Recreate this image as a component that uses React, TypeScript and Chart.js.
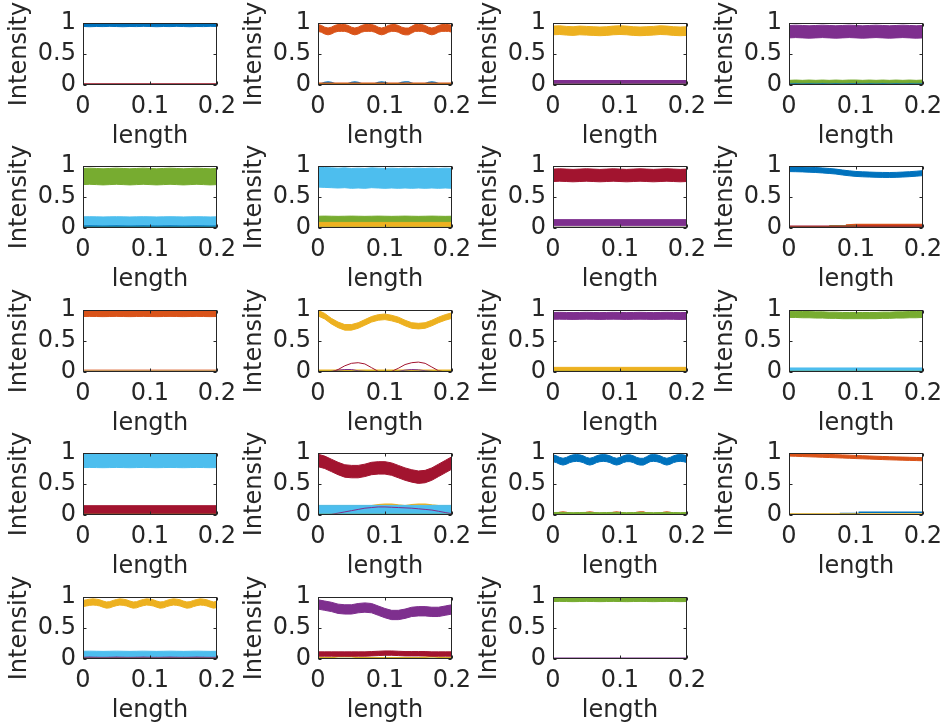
import React, { useEffect, useRef } from "react";
import { Chart, registerables } from "chart.js";
Chart.register(...registerables);

// ---------- data ----------
const xTickValues = [0, 0.1, 0.2];
const xTickLabels = ["0", "0.1", "0.2"];
const yTickValues = [0, 0.5, 1];
const yTickLabels = ["0", "0.5", "1"];
const xTitle = "length";
const yTitle = "Intensity";

const xEnds = [0, 0.2];
const x21 = [0, 0.01, 0.02, 0.03, 0.04, 0.05, 0.06, 0.07, 0.08, 0.09, 0.1, 0.11, 0.12, 0.13, 0.14, 0.15, 0.16, 0.17, 0.18, 0.19, 0.2];
const x41 = [0, 0.005, 0.01, 0.015, 0.02, 0.025, 0.03, 0.035, 0.04, 0.045, 0.05, 0.055, 0.06, 0.065, 0.07, 0.075, 0.08, 0.085, 0.09, 0.095, 0.1, 0.105, 0.11, 0.115, 0.12, 0.125, 0.13, 0.135, 0.14, 0.145, 0.15, 0.155, 0.16, 0.165, 0.17, 0.175, 0.18, 0.185, 0.19, 0.195, 0.2];

const baseGreen = [0.003, 0.003];

// panel 1
const p1Blue = [0.97, 0.966, 0.97, 0.968, 0.972, 0.969, 0.966, 0.97, 0.968, 0.972, 0.97, 0.966, 0.97, 0.968, 0.972, 0.969, 0.966, 0.97, 0.968, 0.972, 0.97];
const p1Red = [0.016, 0.016];
// panel 2
const p2Blue = [0.01, 0.02, 0.04, 0.05, 0.04, 0.02, 0.01, 0.01, 0.01, 0.02, 0.04, 0.05, 0.04, 0.02, 0.01, 0.01, 0.01, 0.02, 0.04, 0.05, 0.04, 0.02, 0.01, 0.01, 0.02, 0.04, 0.05, 0.05, 0.03, 0.01, 0.01, 0.01, 0.02, 0.04, 0.05, 0.04, 0.02, 0.01, 0.01, 0.01, 0.02];
const p2Orange = [0.92, 0.906, 0.878, 0.864, 0.878, 0.906, 0.92, 0.92, 0.92, 0.906, 0.878, 0.864, 0.878, 0.906, 0.92, 0.92, 0.92, 0.906, 0.878, 0.864, 0.878, 0.906, 0.92, 0.92, 0.906, 0.878, 0.864, 0.864, 0.892, 0.92, 0.92, 0.92, 0.906, 0.878, 0.864, 0.878, 0.906, 0.92, 0.92, 0.92, 0.906];
const p2OrangeLow = [0.015, 0.015];
// panel 3
const p3Yellow = [0.88, 0.885, 0.875, 0.87, 0.88, 0.875, 0.87, 0.865, 0.87, 0.88, 0.885, 0.88, 0.87, 0.865, 0.87, 0.875, 0.885, 0.88, 0.87, 0.865, 0.87];
const p3Purple = [0.05, 0.05];
// panel 4
const p4Blue = [0.025, 0.025];
const p4Purple = [0.86, 0.865, 0.86, 0.855, 0.86, 0.865, 0.86, 0.855, 0.86, 0.865, 0.86, 0.855, 0.86, 0.865, 0.86, 0.855, 0.86, 0.865, 0.86, 0.855, 0.86];
const p4Green = [0.055, 0.06, 0.055, 0.06, 0.055, 0.06, 0.055, 0.06, 0.055, 0.06, 0.06, 0.055, 0.06, 0.055, 0.06, 0.055, 0.06, 0.055, 0.06, 0.055, 0.06];
// panel 5
const p5Blue = [0.03, 0.03];
const p5Green = [0.83, 0.835, 0.83, 0.825, 0.83, 0.835, 0.83, 0.825, 0.83, 0.835, 0.83, 0.825, 0.83, 0.835, 0.83, 0.825, 0.83, 0.835, 0.83, 0.825, 0.83];
const p5Cyan = [0.115, 0.117, 0.115, 0.113, 0.115, 0.117, 0.115, 0.113, 0.115, 0.117, 0.115, 0.113, 0.115, 0.117, 0.115, 0.113, 0.115, 0.117, 0.115, 0.113, 0.115];
// panel 6
const p6Yellow = [0.055, 0.055];
const p6Green = [0.13, 0.132, 0.13, 0.128, 0.13, 0.132, 0.13, 0.128, 0.13, 0.132, 0.13, 0.128, 0.13, 0.132, 0.13, 0.128, 0.13, 0.132, 0.13, 0.128, 0.13];
const p6Cyan = [0.82, 0.815, 0.81, 0.805, 0.81, 0.8, 0.805, 0.8, 0.81, 0.805, 0.8, 0.805, 0.8, 0.805, 0.8, 0.805, 0.8, 0.805, 0.8, 0.805, 0.8];
// panel 7
const p7Purple = [0.085, 0.085];
const p7Red = [0.85, 0.855, 0.85, 0.845, 0.85, 0.855, 0.85, 0.845, 0.85, 0.855, 0.85, 0.845, 0.85, 0.855, 0.85, 0.845, 0.85, 0.855, 0.85, 0.845, 0.85];
// panel 8
const p8Blue = [0.95, 0.948, 0.945, 0.94, 0.935, 0.928, 0.92, 0.91, 0.895, 0.882, 0.872, 0.866, 0.862, 0.858, 0.856, 0.855, 0.857, 0.862, 0.868, 0.876, 0.885];
const p8OrangeX = [0.085, 0.1, 0.2];
const p8OrangeY = [0.035, 0.045, 0.045];
const p8GreenX = [0.06, 0.1];
const p8GreenY = [0.03, 0.03];
const p8Red = [0.025, 0.025];
// panel 9
const p9Orange = [0.945, 0.947, 0.945, 0.943, 0.945, 0.947, 0.945, 0.943, 0.945, 0.947, 0.945, 0.943, 0.945, 0.947, 0.945, 0.943, 0.945, 0.947, 0.945, 0.943, 0.945];
const p9OrangeLow = [0.03, 0.03];
// panel 10
const p10Blue = [0.005, 0.005];
const p10YellowLow = [0.03, 0.03];
const p10Yellow = [0.95, 0.9, 0.82, 0.76, 0.72, 0.72, 0.75, 0.8, 0.85, 0.88, 0.89, 0.87, 0.84, 0.79, 0.75, 0.74, 0.75, 0.79, 0.84, 0.88, 0.91];
const p10Purple = [0, 0, 0.01, 0.03, 0.04, 0.04, 0.02, 0.01, 0, 0, 0, 0, 0.01, 0.03, 0.04, 0.035, 0.02, 0.01, 0, 0, 0];
const p10Red = [0, 0, 0, 0.04, 0.1, 0.14, 0.15, 0.13, 0.07, 0.01, 0, 0.01, 0.06, 0.12, 0.15, 0.16, 0.14, 0.08, 0.02, 0, 0];
// panel 11
const p11Yellow = [0.04, 0.04];
const p11Purple = [0.905, 0.907, 0.905, 0.903, 0.905, 0.907, 0.905, 0.903, 0.905, 0.907, 0.905, 0.903, 0.905, 0.907, 0.905, 0.903, 0.905, 0.907, 0.905, 0.903, 0.905];
// panel 12
const p12Green = [0.93, 0.93, 0.925, 0.925, 0.92, 0.92, 0.915, 0.915, 0.91, 0.91, 0.91, 0.91, 0.91, 0.91, 0.915, 0.915, 0.92, 0.92, 0.925, 0.925, 0.93];
const p12Cyan = [0.035, 0.035];
// panel 13
const p13Cyan = [0.88, 0.882, 0.88, 0.878, 0.88, 0.882, 0.88, 0.878, 0.88, 0.882, 0.88, 0.878, 0.88, 0.882, 0.88, 0.878, 0.88, 0.882, 0.88, 0.878, 0.88];
const p13Red = [0.08, 0.08];
// panel 14
const p14Yellow = [0.15, 0.15, 0.15, 0.15, 0.15, 0.15, 0.15, 0.15, 0.15, 0.165, 0.175, 0.175, 0.16, 0.15, 0.165, 0.175, 0.175, 0.16, 0.15, 0.15, 0.15];
const p14Cyan = [0.08, 0.08];
const p14Purple = [0.005, 0.005, 0.01, 0.03, 0.05, 0.07, 0.09, 0.11, 0.12, 0.13, 0.13, 0.125, 0.12, 0.115, 0.11, 0.1, 0.09, 0.08, 0.06, 0.04, 0.02];
const p14Red = [0.88, 0.85, 0.8, 0.75, 0.71, 0.7, 0.7, 0.72, 0.75, 0.76, 0.76, 0.74, 0.7, 0.66, 0.63, 0.61, 0.62, 0.66, 0.72, 0.78, 0.84];
// panel 15
const p15Blue = [0.915, 0.9, 0.874, 0.86, 0.874, 0.9, 0.915, 0.92, 0.915, 0.9, 0.874, 0.86, 0.874, 0.9, 0.915, 0.92, 0.915, 0.9, 0.874, 0.86, 0.874, 0.9, 0.915, 0.915, 0.9, 0.874, 0.86, 0.86, 0.886, 0.915, 0.92, 0.915, 0.9, 0.874, 0.86, 0.874, 0.9, 0.915, 0.92, 0.915, 0.9];
const p15Orange = [0.01, 0.02, 0.04, 0.05, 0.04, 0.02, 0.01, 0.01, 0.01, 0.02, 0.04, 0.05, 0.04, 0.02, 0.01, 0.01, 0.01, 0.02, 0.04, 0.05, 0.04, 0.02, 0.01, 0.01, 0.02, 0.04, 0.05, 0.05, 0.03, 0.01, 0.01, 0.01, 0.02, 0.04, 0.05, 0.04, 0.02, 0.01, 0.01, 0.01, 0.02];
const p15Green = [0.02, 0.022, 0.02, 0.018, 0.02, 0.022, 0.02, 0.018, 0.02, 0.022, 0.02, 0.018, 0.02, 0.022, 0.02, 0.018, 0.02, 0.022, 0.02, 0.018, 0.02];
// panel 16
const p16BlueX = [0, 0.077, 0.077, 0.105, 0.105, 0.2];
const p16BlueY = [0.01, 0.01, 0.025, 0.025, 0.045, 0.045];
const p16Orange = [0.975, 0.972, 0.968, 0.964, 0.96, 0.956, 0.952, 0.948, 0.944, 0.94, 0.935, 0.931, 0.927, 0.923, 0.919, 0.915, 0.912, 0.909, 0.906, 0.903, 0.9];
const p16Yellow = [0.012, 0.012];
// panel 17
const p17Red = [0.018, 0.018];
const p17Purple = [0.04, 0.04];
const p17Yellow = [0.895, 0.905, 0.915, 0.92, 0.915, 0.905, 0.885, 0.87, 0.875, 0.895, 0.91, 0.92, 0.915, 0.905, 0.885, 0.87, 0.875, 0.895, 0.91, 0.92, 0.915, 0.905, 0.885, 0.87, 0.875, 0.895, 0.91, 0.92, 0.915, 0.905, 0.885, 0.87, 0.875, 0.895, 0.91, 0.92, 0.915, 0.905, 0.885, 0.87, 0.88];
const p17Cyan = [0.085, 0.087, 0.085, 0.083, 0.085, 0.087, 0.085, 0.083, 0.085, 0.087, 0.085, 0.083, 0.085, 0.087, 0.085, 0.083, 0.085, 0.087, 0.085, 0.083, 0.085];
// panel 18
const p18Yellow = [0.02, 0.02, 0.02, 0.04, 0.045, 0.04, 0.02, 0.02, 0.02, 0.02, 0.02, 0.02, 0.02, 0.02, 0.02, 0.02, 0.03, 0.04, 0.03, 0.02, 0.02];
const p18Purple = [0.88, 0.86, 0.84, 0.81, 0.8, 0.8, 0.82, 0.83, 0.82, 0.78, 0.74, 0.71, 0.71, 0.73, 0.76, 0.77, 0.77, 0.76, 0.76, 0.78, 0.8];
const p18Red = [0.08, 0.08, 0.08, 0.08, 0.08, 0.08, 0.08, 0.08, 0.085, 0.09, 0.095, 0.095, 0.09, 0.085, 0.085, 0.085, 0.085, 0.08, 0.08, 0.08, 0.08];
// panel 19
const p19Green = [0.962, 0.964, 0.962, 0.96, 0.962, 0.964, 0.962, 0.96, 0.962, 0.964, 0.962, 0.96, 0.962, 0.964, 0.962, 0.96, 0.962, 0.964, 0.962, 0.96, 0.962];
const p19Purple = [0.008, 0.008];
const p19Red = [0.004, 0.004];

// ---------- styles ----------
const BLUE = "#0072BD";
const ORANGE = "#D95319";
const YELLOW = "#EDB120";
const PURPLE = "#7E2F8E";
const GREEN = "#77AC30";
const CYAN = "#4DBEEE";
const RED = "#A2142F";
const TEXT = "#262626";
const FONT = "DejaVu Sans";
const FS = 24;

type Series =
  | { kind: "band"; color: string; x: number[]; mid: number[]; spread: number }
  | { kind: "line"; color: string; x: number[]; y: number[]; width: number };

const band = (color: string, x: number[], mid: number[], spread: number): Series => ({ kind: "band", color, x, mid, spread });
const line = (color: string, x: number[], y: number[], width: number): Series => ({ kind: "line", color, x, y, width });

const panels: Series[][] = [
  [band(BLUE, x21, p1Blue, 0.026), line(GREEN, xEnds, baseGreen, 2), line(RED, xEnds, p1Red, 1.5)],
  [line(BLUE, x41, p2Blue, 1.5), band(ORANGE, x41, p2Orange, 0.055), line(ORANGE, xEnds, p2OrangeLow, 3), line(GREEN, xEnds, baseGreen, 2)],
  [band(YELLOW, x21, p3Yellow, 0.07), line(PURPLE, xEnds, p3Purple, 4), line(GREEN, xEnds, baseGreen, 2)],
  [line(BLUE, xEnds, p4Blue, 4), band(PURPLE, x21, p4Purple, 0.1), band(GREEN, x21, p4Green, 0.02), line(GREEN, xEnds, baseGreen, 2)],
  [line(BLUE, xEnds, p5Blue, 3), band(GREEN, x21, p5Green, 0.13), band(CYAN, x21, p5Cyan, 0.065), line(GREEN, xEnds, baseGreen, 2)],
  [band(GREEN, x21, p6Green, 0.06), band(YELLOW, xEnds, p6Yellow, 0.035), band(CYAN, x21, p6Cyan, 0.16), line(GREEN, xEnds, baseGreen, 2)],
  [band(PURPLE, xEnds, p7Purple, 0.05), band(RED, x21, p7Red, 0.1), line(GREEN, xEnds, baseGreen, 2)],
  [band(BLUE, x21, p8Blue, 0.04), line(ORANGE, p8OrangeX, p8OrangeY, 3), line(GREEN, p8GreenX, p8GreenY, 2), line(RED, xEnds, p8Red, 2), line(GREEN, xEnds, baseGreen, 2)],
  [band(ORANGE, x21, p9Orange, 0.05), line(ORANGE, xEnds, p9OrangeLow, 1), line(GREEN, xEnds, baseGreen, 2)],
  [line(BLUE, xEnds, p10Blue, 1.5), line(YELLOW, xEnds, p10YellowLow, 1.5), band(YELLOW, x21, p10Yellow, 0.045), line(PURPLE, x21, p10Purple, 1), line(RED, x21, p10Red, 1), line(GREEN, xEnds, baseGreen, 2)],
  [band(YELLOW, xEnds, p11Yellow, 0.035), band(PURPLE, x21, p11Purple, 0.055), line(GREEN, xEnds, baseGreen, 2)],
  [band(GREEN, x21, p12Green, 0.05), band(CYAN, xEnds, p12Cyan, 0.03), line(GREEN, xEnds, baseGreen, 2)],
  [band(CYAN, x21, p13Cyan, 0.115), band(RED, xEnds, p13Red, 0.07), line(GREEN, xEnds, baseGreen, 2)],
  [line(YELLOW, x21, p14Yellow, 1.5), band(CYAN, xEnds, p14Cyan, 0.075), line(PURPLE, x21, p14Purple, 1), band(RED, x21, p14Red, 0.1), line(GREEN, xEnds, baseGreen, 2)],
  [band(BLUE, x41, p15Blue, 0.055), line(ORANGE, x41, p15Orange, 1.5), band(GREEN, x21, p15Green, 0.02)],
  [line(BLUE, p16BlueX, p16BlueY, 1.5), band(ORANGE, x21, p16Orange, 0.025), line(YELLOW, xEnds, p16Yellow, 2)],
  [line(RED, xEnds, p17Red, 2), line(PURPLE, xEnds, p17Purple, 3), band(YELLOW, x41, p17Yellow, 0.05), band(CYAN, x21, p17Cyan, 0.04), line(GREEN, xEnds, baseGreen, 2)],
  [line(YELLOW, x21, p18Yellow, 1.5), band(PURPLE, x21, p18Purple, 0.075), band(RED, x21, p18Red, 0.035), line(GREEN, xEnds, baseGreen, 2)],
  [band(GREEN, x21, p19Green, 0.035), line(PURPLE, xEnds, p19Purple, 2), line(RED, xEnds, p19Red, 1.5)],
];

// ---------- layout ----------
const colLefts = [83, 318, 553, 789];
const rowTops = [23, 166, 310, 453, 597];
const PLOT_W = 138;
const PLOT_H = 62;
const PAD_L = 80;
const PAD_T = 30;
const PAD_R = 22;
const PAD_B = 66;
const CW = PAD_L + PLOT_W + PAD_R;
const CH = PAD_T + PLOT_H + PAD_B;

const framePlugin = {
  id: "matlabFrame",
  afterDraw(chart: any) {
    const { ctx, chartArea: a, scales } = chart;
    ctx.save();
    const l = Math.round(a.left) + 0.5;
    const r = Math.round(a.right) - 0.5;
    const t = Math.round(a.top) + 0.5;
    const b = Math.round(a.bottom) - 0.5;
    ctx.strokeStyle = TEXT;
    ctx.lineWidth = 1;
    ctx.strokeRect(l, t, r - l, b - t);
    ctx.beginPath();
    for (const v of xTickValues) {
      const px = Math.round(scales.x.getPixelForValue(v)) + 0.5;
      ctx.moveTo(px, b); ctx.lineTo(px, b - 3);
      ctx.moveTo(px, t); ctx.lineTo(px, t + 3);
    }
    for (const v of yTickValues) {
      const py = Math.round(scales.y.getPixelForValue(v)) + 0.5;
      ctx.moveTo(l, py); ctx.lineTo(l + 3, py);
      ctx.moveTo(r, py); ctx.lineTo(r - 3, py);
    }
    ctx.stroke();
    ctx.fillStyle = TEXT;
    ctx.font = `${FS}px "${FONT}"`;
    ctx.textAlign = "center";
    ctx.textBaseline = "middle";
    ctx.translate(a.left - 63, (a.top + a.bottom) / 2);
    ctx.rotate(-Math.PI / 2);
    ctx.fillText(yTitle, 0, 0);
    ctx.restore();
  },
};

function Panel({ series, left, top }: { series: Series[]; left: number; top: number }) {
  const ref = useRef<HTMLCanvasElement>(null);
  useEffect(() => {
    const datasets: any[] = [];
    series.forEach((s) => {
      if (s.kind === "band") {
        datasets.push({
          data: s.x.map((x, i) => ({ x, y: s.mid[i] - s.spread })),
          borderColor: s.color, borderWidth: 1, pointRadius: 0, fill: false,
        });
        datasets.push({
          data: s.x.map((x, i) => ({ x, y: s.mid[i] + s.spread })),
          borderColor: s.color, borderWidth: 1, pointRadius: 0, fill: "-1", backgroundColor: s.color,
        });
      } else {
        datasets.push({
          data: s.x.map((x, i) => ({ x, y: s.y[i] })),
          borderColor: s.color, borderWidth: s.width, pointRadius: 0, fill: false,
        });
      }
    });
    const n = datasets.length;
    datasets.forEach((d, i) => (d.order = n - i));
    const font = { family: FONT, size: FS };
    const chart = new Chart(ref.current as HTMLCanvasElement, {
      type: "line",
      data: { datasets },
      options: {
        responsive: false,
        animation: false,
        devicePixelRatio: 1,
        layout: { padding: { left: 0, top: PAD_T, right: PAD_R, bottom: 0 } },
        plugins: { legend: { display: false }, tooltip: { enabled: false } },
        elements: { line: { tension: 0 } },
        scales: {
          x: {
            type: "linear",
            min: 0,
            max: 0.2,
            grid: { display: false, drawTicks: false, tickLength: 0 },
            border: { display: false },
            afterBuildTicks: (s: any) => { s.ticks = xTickValues.map((v) => ({ value: v })); },
            afterFit: (s: any) => { s.height = PAD_B; },
            ticks: {
              autoSkip: false, maxRotation: 0, padding: 7, color: TEXT, font,
              callback: (v: any) => xTickLabels[xTickValues.indexOf(Number(v))],
            },
            title: { display: true, text: xTitle, color: TEXT, font, padding: { top: 0, bottom: 0 } },
          },
          y: {
            type: "linear",
            min: 0,
            max: 1,
            grid: { display: false, drawTicks: false, tickLength: 0 },
            border: { display: false },
            afterBuildTicks: (s: any) => { s.ticks = yTickValues.map((v) => ({ value: v })); },
            afterFit: (s: any) => { s.width = PAD_L; },
            ticks: {
              autoSkip: false, padding: 7, color: TEXT, font,
              callback: (v: any) => yTickLabels[yTickValues.indexOf(Number(v))],
            },
          },
        },
      } as any,
      plugins: [framePlugin],
    });
    return () => chart.destroy();
  }, [series]);
  return (
    <canvas
      ref={ref}
      width={CW}
      height={CH}
      style={{ position: "absolute", left: left - PAD_L, top: top - PAD_T, width: CW, height: CH }}
    />
  );
}

export default function App() {
  return (
    <div style={{ position: "absolute", left: 0, top: 0, width: 949, height: 726, background: "#ffffff", overflow: "hidden" }}>
      {panels.map((s, i) => (
        <Panel key={i} series={s} left={colLefts[i % 4]} top={rowTops[Math.floor(i / 4)]} />
      ))}
    </div>
  );
}
